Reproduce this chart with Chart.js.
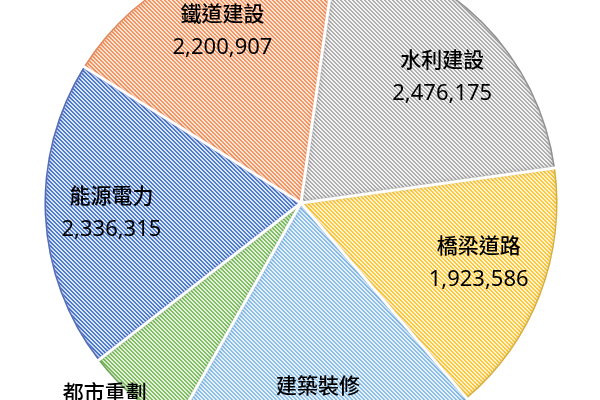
<!DOCTYPE html>
<html>
<head>
<meta charset="utf-8">
<script src="https://cdn.jsdelivr.net/npm/chart.js@4"></script>
<style>
html,body{margin:0;padding:0;width:600px;height:400px;overflow:hidden;background:#fff;}
#wrap{position:absolute;left:1px;top:-55px;width:600px;height:516px;}
</style>
</head>
<body>
<div id="wrap"><canvas id="c"></canvas></div>
<script>
const categories = ['水利建設','橋梁道路','建築裝修','都市重劃','能源電力','鐵道建設'];
const values = [2476175, 1923586, 2332000, 758000, 2336315, 2200907];

const stripeColors = [[175,175,175],[255,200,60],[140,190,232],[130,190,100],[80,125,205],[243,150,100]];
const bgColors = [[245,245,245],[255,245,215],[232,242,250],[230,242,222],[220,232,248],[253,230,215]];
const edgeColors = ['rgba(110,110,110,0.7)','rgba(200,150,0,0.7)','rgba(60,130,200,0.7)','rgba(70,140,40,0.7)','rgba(30,60,160,0.7)','rgba(215,100,40,0.7)'];

function makePattern(s, b){
  const t = document.createElement('canvas');
  t.width = 4; t.height = 4;
  const c = t.getContext('2d');
  const img = c.createImageData(4,4);
  for(let y=0;y<4;y++){
    for(let x=0;x<4;x++){
      const k = ((x - y) % 4 + 4) % 4;
      const col = (k===0||k===1) ? s : b;
      const o = (y*4+x)*4;
      img.data[o]=col[0]; img.data[o+1]=col[1]; img.data[o+2]=col[2]; img.data[o+3]=255;
    }
  }
  c.putImageData(img,0,0);
  return c.createPattern(t,'repeat');
}
const ctx0 = document.getElementById('c').getContext('2d');
const patterns = stripeColors.map((s,i)=>makePattern(s,bgColors[i]));

const sliceDecor = {
  id:'sliceDecor',
  afterDatasetsDraw(chart, args, opts){
    const ctx = chart.ctx;
    const meta = chart.getDatasetMeta(0);
    meta.data.forEach((arc,i)=>{
      const p = arc.getProps(['x','y','startAngle','endAngle','outerRadius'], true);
      ctx.save();
      ctx.beginPath(); ctx.moveTo(p.x,p.y); ctx.arc(p.x,p.y,p.outerRadius,p.startAngle,p.endAngle); ctx.closePath();
      ctx.clip();
      ctx.beginPath(); ctx.moveTo(p.x,p.y); ctx.arc(p.x,p.y,p.outerRadius,p.startAngle,p.endAngle); ctx.closePath();
      ctx.strokeStyle = opts.edge[i]; ctx.lineWidth = 3;
      ctx.shadowColor = opts.edge[i]; ctx.shadowBlur = 5;
      ctx.stroke();
      ctx.restore();
    });
    ctx.save();
    ctx.strokeStyle = '#fff'; ctx.lineWidth = 3; ctx.lineCap='butt';
    meta.data.forEach(arc=>{
      const p = arc.getProps(['x','y','startAngle','outerRadius'], true);
      ctx.beginPath(); ctx.moveTo(p.x,p.y);
      ctx.lineTo(p.x+Math.cos(p.startAngle)*(p.outerRadius+3), p.y+Math.sin(p.startAngle)*(p.outerRadius+3));
      ctx.stroke();
    });
    ctx.restore();
    // labels
    ctx.save();
    ctx.fillStyle = '#000';
    ctx.textAlign = 'center'; ctx.textBaseline = 'middle';
    meta.data.forEach((arc,i)=>{
      const p = arc.getProps(['x','y','startAngle','endAngle','outerRadius'], true);
      const mid = (p.startAngle+p.endAngle)/2 + opts.angleShift[i]*Math.PI/180;
      const r = p.outerRadius*opts.radius[i];
      const cx = p.x + Math.cos(mid)*r, cy = p.y + Math.sin(mid)*r;
      ctx.font = opts.nameFont;
      ctx.fillText(chart.data.labels[i], cx, cy - opts.gap);
      ctx.font = opts.valueFont;
      ctx.fillText(chart.data.datasets[0].data[i].toLocaleString('en-US'), cx, cy + opts.gap);
    });
    ctx.restore();
  }
};

new Chart(ctx0, {
  type:'pie',
  data:{
    labels: categories,
    datasets:[{
      data: values,
      backgroundColor: patterns,
      borderColor:'#fff',
      borderWidth:3
    }]
  },
  options:{
    responsive:true,
    maintainAspectRatio:false,
    animation:false,
    rotation:8,
    layout:{padding:0},
    plugins:{
      legend:{display:false},
      tooltip:{enabled:false},
      sliceDecor:{
        edge: edgeColors,
        radius:[0.74,0.73,0.78,1.11,0.74,0.74],
        angleShift:[3,-2.5,0.5,2.7,0,0.5],
        gap:17.5,
        nameFont:'500 21px "Noto Sans CJK TC"',
        valueFont:'22px "Noto Sans", "Noto Sans CJK TC"'
      }
    }
  },
  plugins:[sliceDecor]
});
</script>
</body>
</html>
